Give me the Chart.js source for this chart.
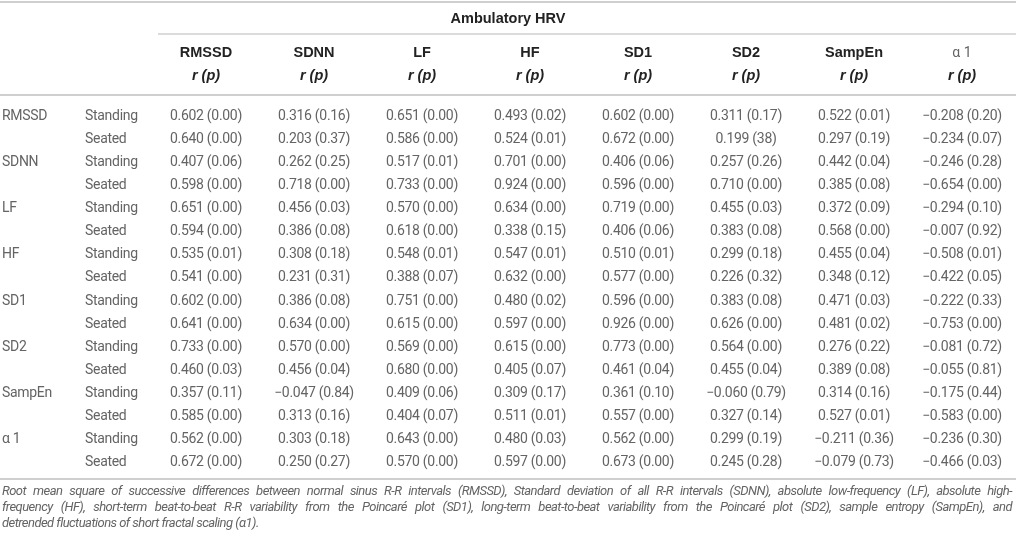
<!DOCTYPE html>
<html lang="en">
<head>
<meta charset="UTF-8">
<title>Ambulatory HRV</title>
<script src="https://cdn.jsdelivr.net/npm/chart.js"></script>
<style>
  html, body { margin: 0; padding: 0; background: #fff; }
  #wrap { position: relative; width: 1016px; height: 540px; }
</style>
</head>
<body>
<div id="wrap"><canvas id="hrvTable"></canvas></div>
<script>
// table content
const spanTitle = 'Ambulatory HRV';
const columns = ['RMSSD', 'SDNN', 'LF', 'HF', 'SD1', 'SD2', 'SampEn', 'α 1'];
const subHeader = 'r (p)';
const groups = ['RMSSD', 'SDNN', 'LF', 'HF', 'SD1', 'SD2', 'SampEn', 'α 1'];
const conditions = ['Standing', 'Seated'];

// r and p per column, rows in order: group x (Standing, Seated)
const rmssdR = [0.602, 0.640, 0.407, 0.598, 0.651, 0.594, 0.535, 0.541, 0.602, 0.641, 0.733, 0.460, 0.357, 0.585, 0.562, 0.672];
const rmssdP = ['0.00', '0.00', '0.06', '0.00', '0.00', '0.00', '0.01', '0.00', '0.00', '0.00', '0.00', '0.03', '0.11', '0.00', '0.00', '0.00'];
const sdnnR = [0.316, 0.203, 0.262, 0.718, 0.456, 0.386, 0.308, 0.231, 0.386, 0.634, 0.570, 0.456, -0.047, 0.313, 0.303, 0.250];
const sdnnP = ['0.16', '0.37', '0.25', '0.00', '0.03', '0.08', '0.18', '0.31', '0.08', '0.00', '0.00', '0.04', '0.84', '0.16', '0.18', '0.27'];
const lfR = [0.651, 0.586, 0.517, 0.733, 0.570, 0.618, 0.548, 0.388, 0.751, 0.615, 0.569, 0.680, 0.409, 0.404, 0.643, 0.570];
const lfP = ['0.00', '0.00', '0.01', '0.00', '0.00', '0.00', '0.01', '0.07', '0.00', '0.00', '0.00', '0.00', '0.06', '0.07', '0.00', '0.00'];
const hfR = [0.493, 0.524, 0.701, 0.924, 0.634, 0.338, 0.547, 0.632, 0.480, 0.597, 0.615, 0.405, 0.309, 0.511, 0.480, 0.597];
const hfP = ['0.02', '0.01', '0.00', '0.00', '0.00', '0.15', '0.01', '0.00', '0.02', '0.00', '0.00', '0.07', '0.17', '0.01', '0.03', '0.00'];
const sd1R = [0.602, 0.672, 0.406, 0.596, 0.719, 0.406, 0.510, 0.577, 0.596, 0.926, 0.773, 0.461, 0.361, 0.557, 0.562, 0.673];
const sd1P = ['0.00', '0.00', '0.06', '0.00', '0.00', '0.06', '0.01', '0.00', '0.00', '0.00', '0.00', '0.04', '0.10', '0.00', '0.00', '0.00'];
const sd2R = [0.311, 0.199, 0.257, 0.710, 0.455, 0.383, 0.299, 0.226, 0.383, 0.626, 0.564, 0.455, -0.060, 0.327, 0.299, 0.245];
const sd2P = ['0.17', '38', '0.26', '0.00', '0.03', '0.08', '0.18', '0.32', '0.08', '0.00', '0.00', '0.04', '0.79', '0.14', '0.19', '0.28'];
const sampEnR = [0.522, 0.297, 0.442, 0.385, 0.372, 0.568, 0.455, 0.348, 0.471, 0.481, 0.276, 0.389, 0.314, 0.527, -0.211, -0.079];
const sampEnP = ['0.01', '0.19', '0.04', '0.08', '0.09', '0.00', '0.04', '0.12', '0.03', '0.02', '0.22', '0.08', '0.16', '0.01', '0.36', '0.73'];
const alpha1R = [-0.208, -0.234, -0.246, -0.654, -0.294, -0.007, -0.508, -0.422, -0.222, -0.753, -0.081, -0.055, -0.175, -0.583, -0.236, -0.466];
const alpha1P = ['0.20', '0.07', '0.28', '0.00', '0.10', '0.92', '0.01', '0.05', '0.33', '0.00', '0.72', '0.81', '0.44', '0.00', '0.30', '0.03'];

const footnote = [
  'Root mean square of successive differences between normal sinus R-R intervals (RMSSD), Standard deviation of all R-R intervals (SDNN), absolute low-frequency (LF), absolute high-',
  'frequency (HF), short-term beat-to-beat R-R variability from the Poincaré plot (SD1), long-term beat-to-beat variability from the Poincaré plot (SD2), sample entropy (SampEn), and',
  'detrended fluctuations of short fractal scaling (α1).'
];

const rValues = [rmssdR, sdnnR, lfR, hfR, sd1R, sd2R, sampEnR, alpha1R];
const pValues = [rmssdP, sdnnP, lfP, hfP, sd1P, sd2P, sampEnP, alpha1P];
const rowKeys = groups.flatMap(g => conditions.map(c => g + ' ' + c));

const BODY = '"Roboto", "Liberation Sans", sans-serif';
const HEAD = '"Liberation Sans", Arial, sans-serif';
const TEXT = '#646464';
const DARK = '#222';
const RULE = '#cfcfcf';

function fmtR(v) {
  const s = Math.abs(v).toFixed(3);
  return v < 0 ? '\u2212' + s : s;
}

function drawJustified(ctx, text, x, y, width) {
  const words = text.split(' ');
  const total = words.reduce((s, w) => s + ctx.measureText(w).width, 0);
  const gap = (width - total) / (words.length - 1);
  let cx = x;
  words.forEach(w => {
    ctx.fillText(w, cx, y);
    cx += ctx.measureText(w).width + gap;
  });
}

function rule(ctx, x1, x2, y, w) {
  ctx.strokeStyle = RULE;
  ctx.lineWidth = w;
  ctx.beginPath();
  ctx.moveTo(x1, y);
  ctx.lineTo(x2, y);
  ctx.stroke();
}

const tablePlugin = {
  id: 'tableText',
  afterDatasetsDraw(chart) {
    const ctx = chart.ctx;
    const xs = chart.scales.x;
    const ys = chart.scales.y;
    const area = chart.chartArea;
    const W = chart.width;
    ctx.save();

    // rules
    rule(ctx, 0, W, 2, 2);
    rule(ctx, area.left + 6, W, 34, 1.5);
    rule(ctx, 0, W, 95, 2);
    rule(ctx, 0, W, area.bottom + 5, 2);

    // spanning header
    ctx.fillStyle = DARK;
    ctx.textAlign = 'center';
    ctx.textBaseline = 'middle';
    ctx.font = 'bold 14.5px ' + HEAD;
    ctx.fillText(spanTitle, W / 2, 19);

    // column headers
    columns.forEach((c, i) => {
      const x = xs.getPixelForValue(i);
      const plain = c.startsWith('α');
      ctx.font = plain ? '14px ' + BODY : 'bold 14.5px ' + HEAD;
      ctx.fillStyle = plain ? TEXT : DARK;
      ctx.fillText(c, x, 53);
      ctx.fillStyle = DARK;
      ctx.font = 'italic bold 14.5px ' + HEAD;
      ctx.fillText(subHeader, x, 76);
    });

    // row labels
    ctx.fillStyle = TEXT;
    ctx.textAlign = 'left';
    ctx.font = '14px ' + BODY;
    ctx.letterSpacing = '-0.3px';
    rowKeys.forEach((k, i) => {
      const y = ys.getPixelForValue(i);
      if (i % conditions.length === 0) ctx.fillText(groups[i / conditions.length], 2, y);
      ctx.fillText(conditions[i % conditions.length], 85, y);
    });

    // cells, placed at each point of each column dataset
    ctx.textAlign = 'center';
    chart.data.datasets.forEach((ds, di) => {
      const meta = chart.getDatasetMeta(di);
      meta.data.forEach((pt, i) => {
        ctx.fillText(fmtR(rValues[di][i]) + ' (' + pValues[di][i] + ')', pt.x, pt.y);
      });
    });

    // footnote
    ctx.textAlign = 'left';
    ctx.font = 'italic 13px ' + BODY;
    ctx.letterSpacing = '-0.55px';
    drawJustified(ctx, footnote[0], 2, area.bottom + 18, 1010);
    drawJustified(ctx, footnote[1], 2, area.bottom + 34, 1010);
    ctx.fillText(footnote[2], 2, area.bottom + 50);
    ctx.letterSpacing = '0px';

    ctx.restore();
  }
};

new Chart(document.getElementById('hrvTable'), {
  type: 'line',
  data: {
    datasets: columns.map((c, ci) => ({
      label: c,
      data: rowKeys.map(k => ({ x: c, y: k })),
      showLine: false,
      pointRadius: 0
    }))
  },
  options: {
    responsive: true,
    maintainAspectRatio: false,
    animation: false,
    events: [],
    layout: { padding: { left: 152, right: 0, top: 105, bottom: 66 } },
    scales: {
      x: { type: 'category', labels: columns, offset: true, display: false },
      y: { type: 'category', labels: rowKeys, offset: true, display: false }
    },
    plugins: {
      legend: { display: false },
      tooltip: { enabled: false }
    }
  },
  plugins: [tablePlugin]
});
</script>
</body>
</html>
